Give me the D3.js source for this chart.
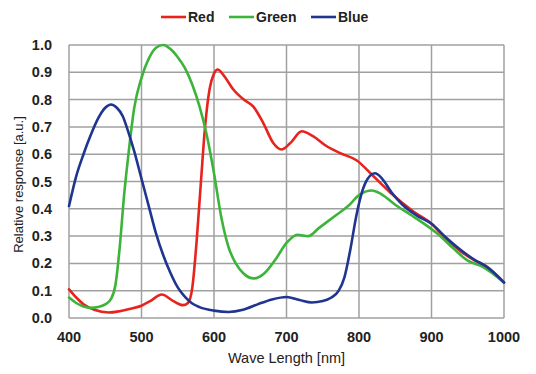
<!DOCTYPE html>
<html lang="en">
  <head>
    <meta charset="utf-8">
    <title>Spectral response</title>
    <script src="https://cdnjs.cloudflare.com/ajax/libs/d3/7.8.5/d3.min.js"></script>
    <style>
      body { margin: 0; background: #fff; }
      * { font-family: "Liberation Sans", Arial, sans-serif; }
      .grid line { stroke: #a0a0a0; stroke-width: 1.5px; }
      .tick-label { font-size: 14.5px; font-weight: bold; fill: #222; }
      .axis-title { font-size: 14.5px; fill: #222; }
      .axis-title.y { font-size: 13px; }
      .legend text { font-size: 14px; font-weight: bold; fill: #222; }
      .line { fill: none; stroke-width: 2.6px; stroke-linejoin: round; stroke-linecap: round; }
    </style>
  </head>
  <body>
    <div id="vis"></div>
<script>
    // wavelengths (nm) and relative response
    var redNm = [400, 410, 420, 435, 455, 470, 485, 500, 512, 528, 544, 557, 564, 570, 576, 582, 588, 594, 600, 605, 613, 627, 641, 654, 668, 682, 693, 705, 721, 737, 755, 774, 797, 820, 843, 875, 900, 920, 940, 960, 975, 1000];
    var redVal = [0.105, 0.075, 0.05, 0.03, 0.02, 0.025, 0.034, 0.045, 0.062, 0.086, 0.062, 0.047, 0.055, 0.11, 0.28, 0.5, 0.71, 0.84, 0.895, 0.91, 0.89, 0.836, 0.80, 0.775, 0.714, 0.64, 0.617, 0.64, 0.684, 0.665, 0.63, 0.604, 0.577, 0.519, 0.46, 0.39, 0.345, 0.29, 0.245, 0.21, 0.19, 0.13];

    var greenNm = [400, 410, 420, 430, 440, 450, 458, 464, 470, 476, 482, 490, 500, 510, 520, 530, 540, 550, 560, 570, 580, 590, 600, 610, 620, 630, 640, 655, 670, 685, 700, 715, 730, 745, 765, 785, 800, 818, 830, 850, 870, 890, 910, 930, 950, 970, 1000];
    var greenVal = [0.075, 0.055, 0.042, 0.037, 0.04, 0.05, 0.07, 0.12, 0.26, 0.45, 0.6, 0.77, 0.88, 0.95, 0.99, 1.0, 0.985, 0.955, 0.915, 0.855, 0.775, 0.67, 0.53, 0.37, 0.26, 0.2, 0.165, 0.145, 0.165, 0.215, 0.275, 0.305, 0.30, 0.33, 0.37, 0.41, 0.45, 0.467, 0.455, 0.415, 0.38, 0.345, 0.305, 0.255, 0.21, 0.188, 0.13];

    var blueNm = [400, 410, 420, 430, 440, 450, 458, 466, 474, 482, 490, 500, 510, 520, 530, 540, 550, 560, 570, 580, 600, 620, 640, 660, 680, 700, 718, 735, 750, 762, 772, 780, 788, 796, 804, 812, 822, 832, 845, 860, 880, 900, 920, 940, 960, 975, 1000];
    var blueVal = [0.41, 0.52, 0.6, 0.67, 0.73, 0.77, 0.782, 0.77, 0.74, 0.68, 0.61, 0.51, 0.41, 0.31, 0.23, 0.165, 0.112, 0.077, 0.053, 0.04, 0.027, 0.022, 0.03, 0.05, 0.068, 0.077, 0.066, 0.057, 0.062, 0.075, 0.1, 0.15, 0.25, 0.37, 0.46, 0.51, 0.53, 0.51, 0.46, 0.415, 0.375, 0.345, 0.295, 0.25, 0.212, 0.19, 0.13];

    var xTicks = [400, 500, 600, 700, 800, 900, 1000];
    var yTicks = [0, 0.1, 0.2, 0.3, 0.4, 0.5, 0.6, 0.7, 0.8, 0.9, 1.0];

    var seriesNames = ['Red', 'Green', 'Blue'];
    var seriesColors = ['#e8231e', '#3cb43a', '#1f3590'];

    var width = 536;
    var height = 374;

    var margin = {
        top: 45,
        bottom: 56,
        left: 69,
        right: 32
    };

    var svg = d3.select('#vis')
        .append('svg')
        .attr('width', width)
        .attr('height', height);

    var plotW = width - margin.left - margin.right;
    var plotH = height - margin.top - margin.bottom;

    var g = svg.append('g')
        .attr('transform', 'translate(' + margin.left + ',' + margin.top + ')');

    var x_scale = d3.scaleLinear()
        .domain([400, 1000])
        .range([0, plotW]);

    var y_scale = d3.scaleLinear()
        .domain([0, 1])
        .range([plotH, 0]);

    // grid
    var grid = g.append('g').attr('class', 'grid');

    grid.selectAll('.hline')
        .data(yTicks)
        .enter()
        .append('line')
        .attr('x1', 0)
        .attr('x2', plotW)
        .attr('y1', function(d) { return y_scale(d); })
        .attr('y2', function(d) { return y_scale(d); });

    grid.selectAll('.vline')
        .data(xTicks)
        .enter()
        .append('line')
        .attr('y1', 0)
        .attr('y2', plotH)
        .attr('x1', function(d) { return x_scale(d); })
        .attr('x2', function(d) { return x_scale(d); });

    // tick labels
    g.selectAll('.ylab')
        .data(yTicks)
        .enter()
        .append('text')
        .attr('class', 'tick-label')
        .attr('x', -17)
        .attr('y', function(d) { return y_scale(d); })
        .attr('dy', '0.35em')
        .attr('text-anchor', 'end')
        .text(function(d) { return d.toFixed(1); });

    g.selectAll('.xlab')
        .data(xTicks)
        .enter()
        .append('text')
        .attr('class', 'tick-label')
        .attr('x', function(d) { return x_scale(d); })
        .attr('y', plotH + 19)
        .attr('dy', '0.35em')
        .attr('text-anchor', 'middle')
        .text(function(d) { return d; });

    // axis titles
    g.append('text')
        .attr('class', 'axis-title')
        .attr('x', plotW / 2)
        .attr('y', plotH + 40)
        .attr('dy', '0.35em')
        .attr('text-anchor', 'middle')
        .text('Wave Length [nm]');

    g.append('text')
        .attr('class', 'axis-title y')
        .attr('transform', 'translate(-51,' + (plotH / 2 + 3) + ') rotate(-90)')
        .attr('dy', '0.35em')
        .attr('text-anchor', 'middle')
        .text('Relative response [a.u.]');

    // curves
    var series = [
        { name: 'Red', nm: redNm, val: redVal },
        { name: 'Green', nm: greenNm, val: greenVal },
        { name: 'Blue', nm: blueNm, val: blueVal }
    ];

    var line = d3.line()
        .x(function(d) { return x_scale(d[0]); })
        .y(function(d) { return y_scale(d[1]); })
        .curve(d3.curveMonotoneX);

    g.selectAll('.line')
        .data(series)
        .enter()
        .append('path')
        .attr('class', 'line')
        .attr('stroke', function(d, i) { return seriesColors[i]; })
        .attr('d', function(d) {
            return line(d.nm.map(function(n, i) { return [n, d.val[i]]; }));
        });

    // legend
    var legendX = [161, 229, 311];
    var legend = svg.append('g').attr('class', 'legend');

    var items = legend.selectAll('.item')
        .data(seriesNames)
        .enter()
        .append('g')
        .attr('transform', function(d, i) { return 'translate(' + legendX[i] + ',17)'; });

    items.append('line')
        .attr('x1', 0)
        .attr('x2', 25)
        .attr('stroke', function(d, i) { return seriesColors[i]; })
        .attr('stroke-width', 2.6);

    items.append('text')
        .attr('x', 27)
        .attr('dy', '0.35em')
        .text(function(d) { return d; });
</script>
</body>
</html>
